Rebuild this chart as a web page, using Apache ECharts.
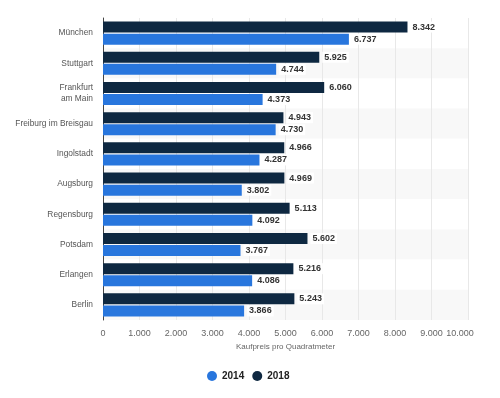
<!DOCTYPE html>
<html>
<head>
<meta charset="utf-8">
<script src="https://cdn.jsdelivr.net/npm/echarts@6/dist/echarts.min.js"></script>
<style>
  html, body { margin: 0; padding: 0; background: #fff; }
  #chart { width: 500px; height: 398px; }
</style>
</head>
<body>
<div id="chart"></div>
<script>
// Kaufpreis pro Quadratmeter, Städte
const cities = ['München', 'Stuttgart', 'Frankfurt\nam Main', 'Freiburg im Breisgau', 'Ingolstadt',
    'Augsburg', 'Regensburg', 'Potsdam', 'Erlangen', 'Berlin'];
const values2014 = [6737, 4744, 4373, 4730, 4287, 3802, 4092, 3767, 4086, 3866];
const values2018 = [8342, 5925, 6060, 4943, 4966, 4969, 5113, 5602, 5216, 5243];
const xTicks = [0, 1000, 2000, 3000, 4000, 5000, 6000, 7000, 8000, 9000, 10000];

const fontFamily = '"Liberation Sans", Arial, sans-serif';

// 1.000er Trennzeichen wie im Original
function fmt(v) {
    return String(v).replace(/\B(?=(\d{3})+(?!\d))/g, '.');
}

const chart = echarts.init(document.getElementById('chart'));

const barLabel = {
    show: true,
    position: 'right',
    distance: 3,
    color: '#333',
    fontSize: 9,
    fontWeight: 'bold',
    fontFamily: fontFamily,
    backgroundColor: '#fff',
    padding: [1, 2],
    formatter: p => fmt(p.value)
};

const option = {
    backgroundColor: '#fff',
    animation: false,
    grid: {
        top: 18,
        left: 103,
        right: 32,
        bottom: 78
    },
    legend: {
        bottom: 12,
        left: 202,
        itemWidth: 10,
        itemHeight: 10,
        itemGap: 8,
        icon: 'circle',
        data: ['2014', '2018'],
        textStyle: {
            color: '#222',
            fontSize: 10,
            fontWeight: 'bold',
            fontFamily: fontFamily
        }
    },
    xAxis: {
        type: 'value',
        min: xTicks[0],
        max: xTicks[xTicks.length - 1],
        interval: 1000,
        name: 'Kaufpreis pro Quadratmeter',
        nameLocation: 'middle',
        nameGap: 22,
        nameTextStyle: {
            color: '#666',
            fontSize: 8,
            fontFamily: fontFamily
        },
        axisLine: { show: false },
        axisTick: { show: false },
        axisLabel: {
            color: '#666',
            fontSize: 9,
            margin: 9,
            fontFamily: fontFamily,
            // letztes Label etwas nach links, wie im Original
            formatter: v => v === xTicks[xTicks.length - 1] ? '{last|' + fmt(v) + '}' : fmt(v),
            rich: {
                last: {
                    color: '#666',
                    fontSize: 9,
                    fontFamily: fontFamily,
                    padding: [0, 16, 0, 0]
                }
            }
        },
        splitLine: {
            lineStyle: { color: '#e8e8e8', width: 1 }
        }
    },
    yAxis: {
        type: 'category',
        data: cities,
        inverse: true,
        axisLine: {
            lineStyle: { color: '#444', width: 1 }
        },
        axisTick: { show: false },
        axisLabel: {
            color: '#555',
            fontSize: 8.4,
            margin: 10,
            lineHeight: 11,
            fontFamily: fontFamily
        },
        splitArea: {
            show: true,
            areaStyle: { color: ['#ffffff', '#f8f8f8'] }
        }
    },
    series: [
        {
            name: '2018',
            type: 'bar',
            data: values2018,
            barWidth: 11,
            barGap: '10%',
            itemStyle: { color: '#0e2841' },
            label: barLabel
        },
        {
            name: '2014',
            type: 'bar',
            data: values2014,
            barWidth: 11,
            itemStyle: { color: '#2876dd' },
            label: barLabel
        }
    ]
};

chart.setOption(option);
</script>
</body>
</html>
